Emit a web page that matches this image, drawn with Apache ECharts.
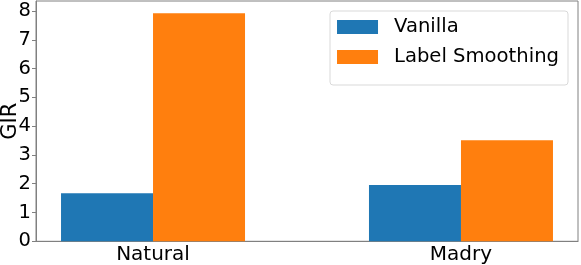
<!DOCTYPE html>
<html>
<head>
<meta charset="utf-8">
<script src="https://cdn.jsdelivr.net/npm/echarts@6/dist/echarts.min.js"></script>
<style>
html,body{margin:0;padding:0;background:#fff;}
#chart{width:581px;height:265px;}
</style>
</head>
<body>
<div id="chart"></div>
<script>
var categories = ['Natural', 'Madry'];
var vanilla = [1.67, 1.96];
var labelSmoothing = [7.92, 3.51];
var yTicks = [0, 1, 2, 3, 4, 5, 6, 7, 8];
var seriesNames = ['Vanilla', 'Label Smoothing'];

var FONT = 'DejaVu Sans';
var catPos = categories.map(function (c, i) { return i; });

var chart = echarts.init(document.getElementById('chart'));
chart.setOption({
  animation: false,
  textStyle: { fontFamily: FONT },
  grid: {
    left: 36, top: 1, right: 3, bottom: 23.7,
    outerBoundsMode: 'none',
    containLabel: false,
    show: true, borderColor: '#808080', borderWidth: 1, backgroundColor: 'transparent'
  },
  legend: {
    data: seriesNames,
    orient: 'vertical',
    right: 13, top: 11,
    icon: 'rect',
    itemWidth: 41, itemHeight: 14,
    itemGap: 10,
    padding: [6, 9, 18, 7],
    borderColor: '#d9d9d9', borderWidth: 1, borderRadius: 3,
    backgroundColor: '#fff',
    textStyle: { fontFamily: FONT, fontSize: 19.6, color: '#000', padding: [0, 0, 0, 11], lineHeight: 19 }
  },
  xAxis: {
    type: 'value',
    min: -0.38, max: 1.38,
    axisLine: { show: true, onZero: false, lineStyle: { color: '#808080', width: 1 } },
    axisTick: { show: false },
    splitLine: { show: false },
    axisLabel: {
      customValues: catPos,
      formatter: function (v) { return categories[Math.round(v)]; },
      fontFamily: FONT, fontSize: 20, color: '#000', margin: 3
    }
  },
  yAxis: {
    type: 'value',
    min: 0, max: 8.35,
    name: 'GIR',
    nameLocation: 'middle',
    nameGap: 15,
    nameMoveOverlap: false,
    nameTextStyle: { fontFamily: FONT, fontSize: 21, color: '#000' },
    axisLine: { show: true, onZero: false, lineStyle: { color: '#808080', width: 1 } },
    axisTick: { show: true, length: 4, lineStyle: { color: '#808080' }, customValues: yTicks },
    splitLine: { show: false },
    axisLabel: {
      customValues: yTicks,
      fontFamily: FONT, fontSize: 19.5, color: '#000', margin: 5
    }
  },
  series: [
    {
      name: seriesNames[0], type: 'bar',
      barWidth: 92, barGap: '0%',
      itemStyle: { color: '#1f77b4' },
      data: catPos.map(function (x, i) { return [x, vanilla[i]]; })
    },
    {
      name: seriesNames[1], type: 'bar',
      barWidth: 92, barGap: '0%',
      itemStyle: { color: '#ff7f0e' },
      data: catPos.map(function (x, i) { return [x, labelSmoothing[i]]; })
    }
  ]
});
</script>
</body>
</html>
